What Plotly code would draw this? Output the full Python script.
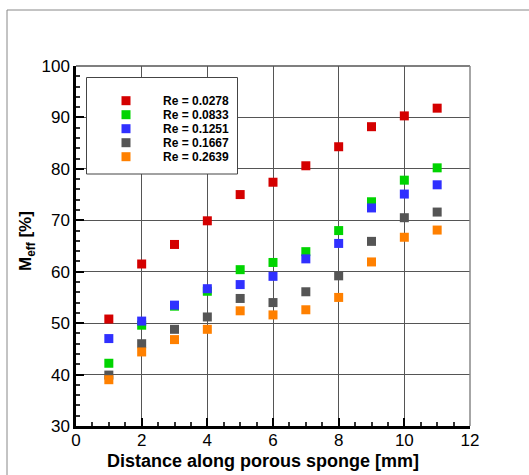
import plotly.graph_objects as go

distance = [1, 2, 3, 4, 5, 6, 7, 8, 9, 10, 11]
series_names = ["Re = 0.0278", "Re = 0.0833", "Re = 0.1251", "Re = 0.1667", "Re = 0.2639"]
m_0278 = [50.8, 61.5, 65.3, 69.9, 75.0, 77.4, 80.6, 84.3, 88.2, 90.3, 91.8]
m_0833 = [42.2, 49.6, 53.3, 56.2, 60.4, 61.8, 63.9, 68.0, 73.6, 77.8, 80.2]
m_1251 = [47.0, 50.4, 53.5, 56.7, 57.5, 59.1, 62.5, 65.5, 72.4, 75.1, 76.9]
m_1667 = [39.9, 46.0, 48.8, 51.2, 54.8, 54.0, 56.1, 59.2, 65.9, 70.5, 71.6]
m_2639 = [39.0, 44.4, 46.8, 48.8, 52.4, 51.6, 52.6, 55.0, 61.9, 66.7, 68.1]
colors = ["#d40000", "#00d400", "#3030ff", "#555555", "#ff8000"]
x_ticks = [0, 2, 4, 6, 8, 10, 12]
y_ticks = [30, 40, 50, 60, 70, 80, 90, 100]

all_series = [m_0278, m_0833, m_1251, m_1667, m_2639]

fig = go.Figure()
for name, vals, c in zip(series_names, all_series, colors):
    fig.add_trace(go.Scatter(
        x=distance, y=vals, mode="markers", name=name,
        marker=dict(symbol="square", size=9, color=c, line=dict(width=0)),
    ))

L, R, T, B = 76, 59, 66, 49
W, H = 529, 475
pw = W - L - R
ph = H - T - B


def px(xp):
    return (xp - L) / pw


def py(yp):
    return 1 - (yp - T) / ph


fig.update_layout(
    width=W, height=H,
    margin=dict(l=L, r=R, t=T, b=B, pad=0, autoexpand=False),
    paper_bgcolor="white", plot_bgcolor="white",
    font=dict(family="Arial, Liberation Sans, sans-serif", size=17, color="black"),
    showlegend=False,
    xaxis=dict(
        range=[0, 12], tickvals=x_ticks, ticktext=[str(v) for v in x_ticks],
        ticks="inside", ticklen=8, tickwidth=2, tickcolor="black",
        showline=True, linecolor="black", linewidth=2.5, mirror=False,
        showgrid=True, gridcolor="#555555", gridwidth=1,
        zeroline=False, automargin=False, ticklabelstandoff=-3,
        minor=dict(dtick=0.5, ticks="inside", ticklen=4, tickcolor="#333333", showgrid=False),
        tickfont=dict(size=17),
    ),
    yaxis=dict(
        range=[30, 100], tickvals=y_ticks, ticktext=[str(v) for v in y_ticks],
        ticks="inside", ticklen=8, tickwidth=2, tickcolor="black",
        showline=True, linecolor="black", linewidth=2.5, mirror=False,
        showgrid=True, gridcolor="#555555", gridwidth=1,
        zeroline=False, automargin=False,
        minor=dict(dtick=2, ticks="inside", ticklen=4, tickcolor="#333333", showgrid=False),
        tickfont=dict(size=17),
    ),
)

# axis titles placed as in the reference
fig.add_annotation(
    text="<b>Distance along porous sponge [mm]</b>", xref="paper", yref="paper",
    x=px(262.5), y=py(461), xanchor="center", yanchor="middle", showarrow=False,
    font=dict(size=18, color="black"),
)
fig.add_annotation(
    text="<b>M<sub>eff</sub> [%]</b>", xref="paper", yref="paper",
    x=px(27), y=py(241), xanchor="center", yanchor="middle", showarrow=False,
    textangle=-90, font=dict(size=17, color="black"),
)

# top and right plot borders
fig.add_shape(type="line", xref="paper", yref="paper", x0=0, x1=1, y0=1, y1=1,
              line=dict(color="#555555", width=1.5))
fig.add_shape(type="line", xref="paper", yref="paper", x0=1, x1=1, y0=0, y1=1,
              line=dict(color="#888888", width=1.5))
# outer frame (top and left)
fx = px(7)
fy = py(10)
fig.add_shape(type="line", xref="paper", yref="paper", x0=fx, x1=1 + R / pw, y0=fy, y1=fy,
              line=dict(color="#888888", width=1))
fig.add_shape(type="line", xref="paper", yref="paper", x0=fx, x1=fx, y0=-B / ph, y1=fy,
              line=dict(color="#888888", width=1))

# legend box drawn manually (compact row spacing as in the reference)
fig.add_shape(type="rect", xref="paper", yref="paper",
              x0=px(86.5), x1=px(237.5), y0=py(174), y1=py(77.5),
              line=dict(color="#444444", width=1), fillcolor="white", layer="above")
for i, (name, c) in enumerate(zip(series_names, colors)):
    yc = 100.7 + 14 * i
    fig.add_shape(type="rect", xref="paper", yref="paper",
                  x0=px(121.5), x1=px(130.5), y0=py(yc + 4.5), y1=py(yc - 4.5),
                  line=dict(width=0), fillcolor=c, layer="above")
    fig.add_annotation(text="<b>%s</b>" % name, xref="paper", yref="paper",
                       x=px(160.5), y=py(yc), xanchor="left", yanchor="middle",
                       showarrow=False, font=dict(size=12, color="black"))

fig.write_html("out.html")
